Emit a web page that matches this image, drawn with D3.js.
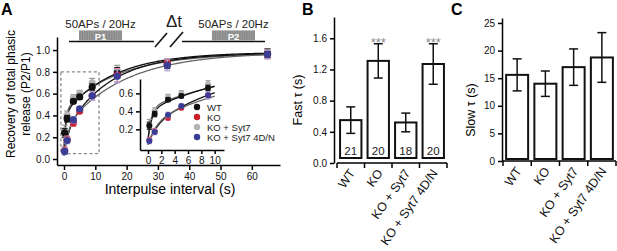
<!DOCTYPE html>
<html>
<head>
<meta charset="utf-8">
<script src="https://cdn.jsdelivr.net/npm/d3@7"></script>
<style>
  body { margin: 0; background: #fff; }
  svg { font-family: "Liberation Sans", Arial, sans-serif; }
  .axis path, .axis line { stroke: #000; stroke-width: 1.5; }
  .axis text { font-size: 10px; fill: #111; }
</style>
</head>
<body>
<div id="chart"></div>
<script>
// ---- data ----
var groups = ["WT", "KO", "KO + Syt7", "KO + Syt7 4D/N"];
var times = [0.2, 1, 3, 5, 9, 17, 33, 65];

var wtMean   = [0.24, 0.37, 0.53, 0.57, 0.66, 0.79, 0.87, 0.97];
var wtErr    = [0.04, 0.03, 0.02, 0.02, 0.03, 0.05, 0.04, 0.04];
var syt7Mean = [0.26, 0.40, 0.56, 0.60, 0.70, 0.81, 0.88, 0.97];
var syt7Err  = [0.05, 0.04, 0.03, 0.03, 0.04, 0.05, 0.04, 0.04];
var koMean   = [0.08, 0.18, 0.33, 0.44, 0.58, 0.77, 0.88, 0.96];
var koErr    = [0.03, 0.03, 0.03, 0.02, 0.04, 0.06, 0.04, 0.04];
var dnMean   = [0.07, 0.17, 0.36, 0.46, 0.58, 0.76, 0.86, 0.96];
var dnErr    = [0.03, 0.03, 0.03, 0.02, 0.04, 0.06, 0.05, 0.04];

// double exponential fits: [y0, aFast, tauFast, aSlow, tauSlow]
var wtFit   = [0.08, 0.33, 0.55, 0.57, 15.6];
var syt7Fit = [0.09, 0.35, 0.52, 0.53, 17.0];
var koFit   = [0.03, 0.20, 1.31, 0.74, 14.0];
var dnFit   = [0.03, 0.25, 1.27, 0.70, 18.8];

var fastTau = [0.55, 1.31, 0.52, 1.27];
var fastErr = [0.17, 0.22, 0.12, 0.26];
var fastN   = [21, 20, 18, 20];
var fastSig = ["", "***", "", "***"];

var slowTau = [15.6, 14.0, 17.0, 18.75];
var slowErr = [2.9, 2.3, 3.3, 4.5];

var mainTicks  = [0, 0.2, 0.4, 0.6, 0.8, 1.0];
var mainXTicks = [0, 10, 20, 30, 40, 50, 60];
var insetYTicks = [0.2, 0.4, 0.6];
var insetXTicks = [0, 2, 4, 6, 8, 10];
var fastTicks = [0, 0.4, 0.8, 1.2, 1.6];
var slowTicks = [0, 5, 10, 15, 20, 25];

var series = [
  { name: groups[2], mean: syt7Mean, err: syt7Err, fit: syt7Fit, color: "#b4b4b4", errColor: "#9a9a9a", line: "#666" },
  { name: groups[0], mean: wtMean,   err: wtErr,   fit: wtFit,   color: "#111111", errColor: "#222", line: "#111" },
  { name: groups[1], mean: koMean,   err: koErr,   fit: koFit,   color: "#cc1f2e", errColor: "#e58a98", line: "#111" },
  { name: groups[3], mean: dnMean,   err: dnErr,   fit: dnFit,   color: "#3a3d96", errColor: "#a6a2d6", line: "#666" }
];
var legendOrder = [1, 2, 0, 3];

function fitValue(p, t) {
  return p[0] + p[1] * (1 - Math.exp(-t / p[2])) + p[3] * (1 - Math.exp(-t / p[4]));
}

var svg = d3.select("#chart").append("svg")
  .attr("width", 617).attr("height", 251);

// panel letters
svg.append("text").attr("x", 1).attr("y", 15).text("A")
  .style("font-size", "16px").style("font-weight", "bold");
svg.append("text").attr("x", 302).attr("y", 15).text("B")
  .style("font-size", "16px").style("font-weight", "bold");
svg.append("text").attr("x", 451).attr("y", 15).text("C")
  .style("font-size", "16px").style("font-weight", "bold");

// ---- panel A ----
var x = d3.scaleLinear().domain([-2.24, 69]).range([57, 280]);
var y = d3.scaleLinear().domain([-0.055, 1.12]).range([165, 37]);

svg.append("g").attr("class", "axis")
  .attr("transform", "translate(57,0)")
  .call(d3.axisLeft(y).tickValues(mainTicks).tickFormat(d3.format(".1f")).tickSize(4).tickSizeOuter(0));
svg.append("g").attr("class", "axis")
  .attr("transform", "translate(0,165)")
  .call(d3.axisBottom(x).tickValues(mainXTicks).tickSize(5).tickSizeOuter(0));

svg.append("text").attr("transform", "translate(15,94) rotate(-90)")
  .attr("text-anchor", "middle").style("font-size", "12px").text("Recovery of total phasic");
svg.append("text").attr("transform", "translate(30,94) rotate(-90)")
  .attr("text-anchor", "middle").style("font-size", "12px").text("release (P2/P1)");
svg.append("text").attr("x", 170).attr("y", 194)
  .attr("text-anchor", "middle").style("font-size", "14px").text("Interpulse interval (s)");

// dashed zoom box
svg.append("rect")
  .attr("x", x(-1)).attr("y", y(0.8))
  .attr("width", x(11.2) - x(-1)).attr("height", y(0.05) - y(0.8))
  .attr("fill", "none").attr("stroke", "#888").attr("stroke-width", 1.3)
  .attr("stroke-dasharray", "3,2.5");

// stimulation schematic
function stimBlock(x0, x1, bx0, bx1, label) {
  svg.append("line").attr("x1", x0).attr("x2", x1).attr("y1", 41.5).attr("y2", 41.5)
    .attr("stroke", "#111").attr("stroke-width", 1.6);
  svg.append("rect").attr("x", bx0).attr("y", 30.5).attr("width", bx1 - bx0).attr("height", 10)
    .attr("fill", "#858585");
  svg.append("g").selectAll("line").data(d3.range(bx0 + 1, bx1, 1.7)).join("line")
    .attr("x1", d => d).attr("x2", d => d).attr("y1", 30.5).attr("y2", 40.5)
    .attr("stroke", "#a9a9a9").attr("stroke-width", 0.6);
  svg.append("text").attr("x", (bx0 + bx1) / 2).attr("y", 39.5).attr("text-anchor", "middle")
    .style("font-size", "9.5px").style("font-weight", "bold").attr("fill", "#fff").text(label);
  svg.append("text").attr("x", (bx0 + bx1) / 2).attr("y", 28).attr("text-anchor", "middle")
    .style("font-size", "11.5px").attr("fill", "#222").text("50APs / 20Hz");
}
stimBlock(69, 154, 79, 122, "P1");
stimBlock(182, 265, 212, 255, "P2");
svg.append("line").attr("x1", 155).attr("y1", 47).attr("x2", 167).attr("y2", 33)
  .attr("stroke", "#111").attr("stroke-width", 1.6);
svg.append("line").attr("x1", 170).attr("y1", 47).attr("x2", 183).attr("y2", 32)
  .attr("stroke", "#111").attr("stroke-width", 1.6);
svg.append("text").attr("x", 174).attr("y", 27).attr("text-anchor", "middle")
  .style("font-size", "17px").attr("fill", "#222").text("Δt");

function drawSeries(g, xs, ys, tMax, r, cap) {
  var tGrid = d3.range(0, tMax + 0.001, tMax / 300);
  series.forEach(function (s) {
    g.append("path")
      .datum(tGrid)
      .attr("fill", "none").attr("stroke", s.line).attr("stroke-width", 1.3)
      .attr("d", d3.line().x(t => xs(t)).y(t => ys(fitValue(s.fit, t))));
  });
  series.forEach(function (s) {
    var pts = times.map((t, i) => ({ t: t, m: s.mean[i], e: s.err[i] })).filter(d => d.t <= tMax);
    var eg = g.append("g").attr("stroke", s.errColor).attr("stroke-width", 1.2);
    pts.forEach(function (d) {
      eg.append("line").attr("x1", xs(d.t)).attr("x2", xs(d.t)).attr("y1", ys(d.m - d.e)).attr("y2", ys(d.m + d.e));
      eg.append("line").attr("x1", xs(d.t) - cap).attr("x2", xs(d.t) + cap).attr("y1", ys(d.m - d.e)).attr("y2", ys(d.m - d.e));
      eg.append("line").attr("x1", xs(d.t) - cap).attr("x2", xs(d.t) + cap).attr("y1", ys(d.m + d.e)).attr("y2", ys(d.m + d.e));
    });
    g.append("g").selectAll("circle").data(pts).join("circle")
      .attr("cx", d => xs(d.t)).attr("cy", d => ys(d.m)).attr("r", r)
      .attr("fill", s.color);
  });
}

var mainG = svg.append("g");
drawSeries(mainG, x, y, 65, 3.6, 3);

// inset
var xi = d3.scaleLinear().domain([-1.2, 11.4]).range([140, 224]);
var yi = d3.scaleLinear().domain([-0.03, 0.76]).range([150, 79]);
svg.append("rect").attr("x", 141).attr("y", 79).attr("width", 84).attr("height", 70).attr("fill", "#fff");
svg.append("g").attr("class", "axis")
  .attr("transform", "translate(140,0)")
  .call(d3.axisLeft(yi).tickValues(insetYTicks).tickFormat(d3.format(".1f")).tickSize(4).tickSizeOuter(0));
svg.append("g").attr("class", "axis")
  .attr("transform", "translate(0,150)")
  .call(d3.axisBottom(xi).tickValues(insetXTicks).tickSize(4).tickSizeOuter(0));
var insetG = svg.append("g");
drawSeries(insetG, xi, yi, 10, 3, 2.5);

// legend
var leg = svg.append("g").selectAll("g").data(legendOrder).join("g")
  .attr("transform", (d, i) => "translate(197," + (107 + i * 10) + ")");
leg.append("circle").attr("r", 3.2).attr("fill", d => series[d].color);
leg.append("text").attr("x", 10).attr("y", 3.5).style("font-size", "9.5px").attr("fill", "#222")
  .text(d => series[d].name);

// ---- bar panels ----
function barPanel(opts) {
  var xb = d3.scaleBand().domain(groups).range([opts.x0, opts.x1]).paddingInner(0.15).paddingOuter(0.075);
  var yb = d3.scaleLinear().domain(opts.domain).range(opts.yRange);
  var y0 = yb(0);

  svg.append("g").attr("class", "axis")
    .attr("transform", "translate(" + opts.yAxisX + ",0)")
    .call(d3.axisLeft(yb).tickValues(opts.ticks).tickFormat(opts.fmt).tickSize(4).tickSizeOuter(0));

  // category axis with boundary ticks
  var step = xb.step();
  var bounds = d3.range(groups.length + 1).map(i => opts.x0 + i * step);
  var ax = svg.append("g");
  ax.append("line").attr("x1", opts.x0).attr("x2", opts.x1).attr("y1", y0).attr("y2", y0)
    .attr("stroke", "#000").attr("stroke-width", 1.5);
  ax.selectAll(".tk").data(bounds).join("line").attr("class", "tk")
    .attr("x1", d => d).attr("x2", d => d).attr("y1", y0).attr("y2", y0 + 5)
    .attr("stroke", "#000").attr("stroke-width", 1.5);
  ax.selectAll("text").data(groups).join("text")
    .attr("transform", d => "translate(" + (xb(d) + xb.bandwidth() / 2 + 5) + "," + (y0 + 10) + ") rotate(-55)")
    .attr("text-anchor", "end").style("font-size", "12.5px").attr("fill", "#111")
    .text(d => d);

  svg.append("g").selectAll("rect").data(groups).join("rect")
    .attr("x", d => xb(d) + 1).attr("width", xb.bandwidth() - 2)
    .attr("y", (d, i) => yb(opts.vals[i]))
    .attr("height", (d, i) => y0 - opts.gap - yb(opts.vals[i]))
    .attr("fill", "#fff").attr("stroke", "#111").attr("stroke-width", 2);

  var eg = svg.append("g").attr("stroke", "#111").attr("stroke-width", 1.5);
  groups.forEach(function (g, i) {
    var cx = xb(g) + xb.bandwidth() / 2;
    var lo = yb(opts.vals[i] - opts.errs[i]), hi = yb(opts.vals[i] + opts.errs[i]);
    eg.append("line").attr("x1", cx).attr("x2", cx).attr("y1", lo).attr("y2", hi);
    eg.append("line").attr("x1", cx - 4.5).attr("x2", cx + 4.5).attr("y1", lo).attr("y2", lo);
    eg.append("line").attr("x1", cx - 4.5).attr("x2", cx + 4.5).attr("y1", hi).attr("y2", hi);
  });

  svg.append("text").attr("transform", "translate(" + opts.labelX + "," + opts.labelY + ") rotate(-90)")
    .attr("text-anchor", "middle").style("font-size", "12.5px").text(opts.label);
  return { xb: xb, yb: yb };
}

var pb = barPanel({
  x0: 337, x1: 447, yAxisX: 334, domain: [0, 1.873], yRange: [163, 17],
  ticks: fastTicks, fmt: d3.format(".1f"), vals: fastTau, errs: fastErr,
  gap: 5, label: "Fast τ (s)", labelX: 302, labelY: 100
});
svg.append("g").selectAll("text").data(groups).join("text")
  .attr("x", d => pb.xb(d) + pb.xb.bandwidth() / 2).attr("y", 154.5)
  .attr("text-anchor", "middle").style("font-size", "11.5px").attr("fill", "#222")
  .text((d, i) => fastN[i]);
svg.append("g").selectAll("text").data(groups).join("text")
  .attr("x", d => pb.xb(d) + pb.xb.bandwidth() / 2)
  .attr("y", (d, i) => pb.yb(fastTau[i] + fastErr[i]) + 3)
  .attr("text-anchor", "middle").style("font-size", "13px").attr("fill", "#8a8a8a")
  .text((d, i) => fastSig[i]);

barPanel({
  x0: 503, x1: 616, yAxisX: 502, domain: [0, 25.9], yRange: [161, 18],
  ticks: slowTicks, fmt: d3.format("d"), vals: slowTau, errs: slowErr,
  gap: 2, label: "Slow τ (s)", labelX: 475, labelY: 110
});
</script>
</body>
</html>
